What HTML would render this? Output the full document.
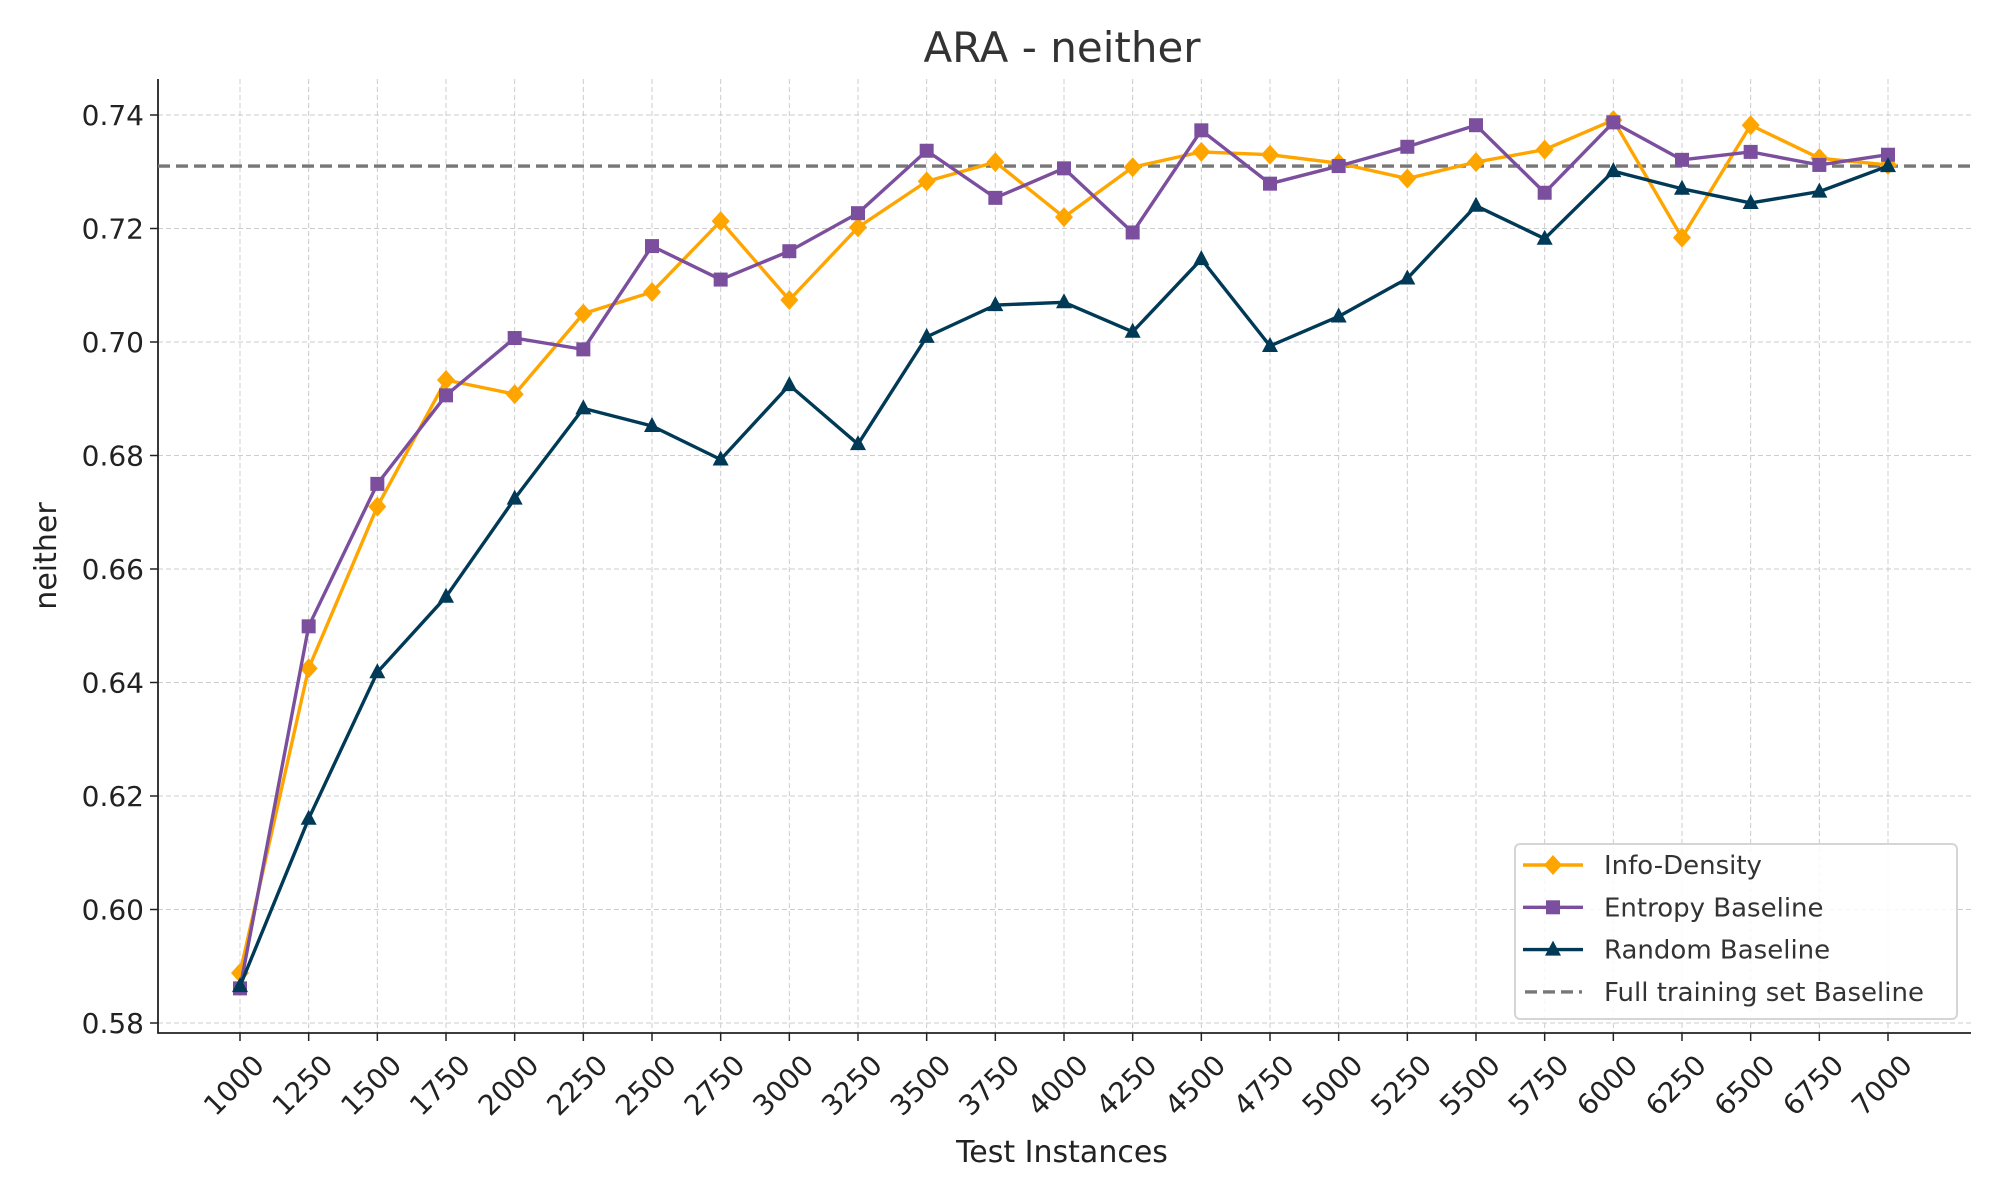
<!DOCTYPE html>
<html><head><meta charset="utf-8"><style>
html,body{margin:0;padding:0;background:#fff;}
svg{display:block;font-family:"DejaVu Sans","Liberation Sans",sans-serif;}
</style></head><body>
<svg id="chart" width="2000" height="1200" viewBox="0 0 2000 1200" xmlns="http://www.w3.org/2000/svg"></svg>
<script>
const categories=[1000,1250,1500,1750,2000,2250,2500,2750,3000,3250,3500,3750,4000,4250,4500,4750,5000,5250,5500,5750,6000,6250,6500,6750,7000];
const infoDensity=[0.5888,0.6425,0.671,0.6933,0.6908,0.705,0.7088,0.7213,0.7074,0.7202,0.7283,0.7317,0.722,0.7308,0.7335,0.733,0.7315,0.7288,0.7317,0.7339,0.7391,0.7184,0.7382,0.7324,0.7312];
const entropy=[0.5861,0.6499,0.675,0.6906,0.7007,0.6987,0.7169,0.711,0.716,0.7227,0.7337,0.7254,0.7306,0.7193,0.7373,0.7279,0.731,0.7344,0.7382,0.7263,0.7387,0.7321,0.7335,0.7312,0.733];
const randomB=[0.5865,0.616,0.6418,0.6551,0.6724,0.6883,0.6852,0.6793,0.6924,0.682,0.7009,0.7065,0.707,0.7018,0.7146,0.6993,0.7045,0.7112,0.724,0.7182,0.7301,0.727,0.7245,0.7265,0.731];
const fullBaseline=[0.731];
const yTicks=[0.58,0.60,0.62,0.64,0.66,0.68,0.70,0.72,0.74];

const svg=document.getElementById('chart');
const NS='http://www.w3.org/2000/svg';
const L=158,R=1971,T=79,B=1033;
function xs(v){return 240+(v-1000)/6000*(1888-240);}
function ys(v){return 1023-(v-0.58)/0.16*(1023-115);}
function mk(tag,attrs,parent){const e=document.createElementNS(NS,tag);for(const k in attrs)e.setAttribute(k,attrs[k]);(parent||svg).appendChild(e);return e;}

const grid=mk('g',{});


categories.forEach(c=>{
  const g=mk('line',{x1:xs(c),x2:xs(c),y1:T,y2:B,stroke:'#cccccc','stroke-width':1,'stroke-dasharray':'5,3'},grid);
  
  
  const t=mk('line',{x1:xs(c),x2:xs(c),y1:B,y2:B+8,stroke:'#222','stroke-width':1.5});
  
  
  const x=xs(c)+12,y=B+20;
  const lb=mk('text',{x:x,y:y,'font-size':28,fill:'#222','text-anchor':'end',transform:`rotate(-45 ${x} ${y})`,dy:'0.7em'});
  lb.textContent=c;
  
  
});
yTicks.forEach(v=>{
  const g=mk('line',{x1:L,x2:R,y1:ys(v),y2:ys(v),stroke:'#cccccc','stroke-width':1,'stroke-dasharray':'5,3'},grid);
  
  
  const t=mk('line',{x1:L-8,x2:L,y1:ys(v),y2:ys(v),stroke:'#222','stroke-width':1.5});
  
  
  const lb=mk('text',{x:L-14,y:ys(v)+10,'font-size':28,fill:'#222','text-anchor':'end'});
  lb.textContent=v.toFixed(2);
  
  
});
const ax=mk('path',{d:`M${L},${T}V${B}H${R}`,fill:'none',stroke:'#222','stroke-width':1.8});



const bl=mk('line',{x1:L,x2:R,y1:ys(fullBaseline[0]),y2:ys(fullBaseline[0]),stroke:'#777','stroke-width':3.4,'stroke-dasharray':'12,6'});



function marker(type,x,y,color,parent){
  if(type==='d') return mk('polygon',{points:`${x},${y-10} ${x+9},${y} ${x},${y+10} ${x-9},${y}`,fill:color},parent);
  if(type==='s') return mk('rect',{x:x-7,y:y-7,width:14,height:14,fill:color},parent);
  return mk('polygon',{points:`${x},${y-9} ${x+8},${y+6} ${x-8},${y+6}`,fill:color},parent);
}
function series(vals,color,type,name){
  const g=mk('g',{});
  
  
  mk('polyline',{points:vals.map((v,i)=>xs(categories[i])+','+ys(v)).join(' '),fill:'none',stroke:color,'stroke-width':3.4,'stroke-linejoin':'round'},g);
  vals.forEach((v,i)=>{
    const m=marker(type,xs(categories[i]),ys(v),color,g);
    
    
  });
}
series(infoDensity,'#FFA500','d','info-density-series');
series(entropy,'#7B4F9D','s','entropy-series');
series(randomB,'#003A57','t','random-series');

const title=mk('text',{x:1062,y:62,'font-size':42,fill:'#333','text-anchor':'middle'});
title.textContent='ARA - neither';


const xt=mk('text',{x:1062,y:1162,'font-size':30,fill:'#222','text-anchor':'middle'});
xt.textContent='Test Instances';


const yt=mk('text',{x:56,y:556,'font-size':30,fill:'#222','text-anchor':'middle',transform:'rotate(-90 56 556)'});
yt.textContent='neither';



const lg=mk('g',{});


mk('rect',{x:1515,y:844,width:442,height:175,rx:5,fill:'#fff','fill-opacity':0.85,stroke:'#d5d5d5','stroke-width':2},lg);
const entries=[['Info-Density','#FFA500','d'],['Entropy Baseline','#7B4F9D','s'],['Random Baseline','#003A57','t'],['Full training set Baseline','#777','dash']];
entries.forEach((e,i)=>{
  const y=865+i*42.3;
  const eg=mk('g',{},lg);
  
  
  if(e[2]==='dash') mk('line',{x1:1525,x2:1582,y1:y,y2:y,stroke:e[1],'stroke-width':3.4,'stroke-dasharray':'12,6'},eg);
  else{mk('line',{x1:1523,x2:1583,y1:y,y2:y,stroke:e[1],'stroke-width':3.4},eg);marker(e[2],1553,y,e[1],eg);}
  const t=mk('text',{x:1604,y:y+9,'font-size':26,fill:'#333'},eg);
  t.textContent=e[0];
});
</script>
</body></html>
